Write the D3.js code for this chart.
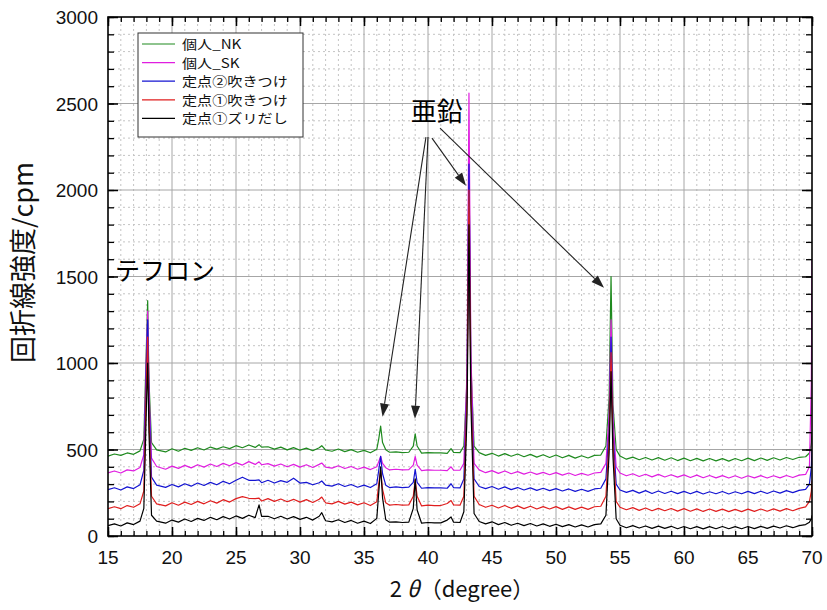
<!DOCTYPE html>
<html><head><meta charset="utf-8">
<script src="https://cdn.jsdelivr.net/npm/d3@7"></script>
<style>
body{margin:0;background:#fff;}
svg{display:block;font-family:"Liberation Sans","Noto Sans CJK JP",Arial,sans-serif;}
</style></head>
<body>
<svg id="chart" width="827" height="610"></svg>
<script>
const twoTheta = [15.0,15.5,16.0,16.5,17.0,17.5,17.8,18.0,18.1,18.2,
18.4,18.8,19.5,20.0,20.5,21.0,21.5,22.0,22.5,23.0,
23.5,24.0,24.5,25.0,25.5,26.0,26.5,26.8,27.0,27.5,
28.0,28.5,29.0,29.5,30.0,30.5,31.0,31.5,31.7,32.0,
32.5,33.0,33.5,34.0,34.5,35.0,35.5,36.0,36.15,36.3,
36.45,36.7,37.0,37.5,38.0,38.5,38.85,39.0,39.15,39.5,
40.0,40.5,41.0,41.5,41.8,42.0,42.5,42.8,43.05,43.2,
43.35,43.6,44.0,44.5,45.0,45.5,46.0,46.5,47.0,47.5,
48.0,48.5,49.0,49.5,50.0,50.5,51.0,51.5,52.0,52.5,
53.0,53.5,53.9,54.15,54.3,54.45,54.7,55.0,55.5,56.0,
56.5,57.0,57.5,58.0,58.5,59.0,59.5,60.0,60.5,61.0,
61.5,62.0,62.5,63.0,63.5,64.0,64.5,65.0,65.5,66.0,
66.5,67.0,67.5,68.0,68.5,69.0,69.5,69.8,69.95,70.0];

const kojinNK = [462,474,466,480,472,492,560,1100,1360,900,
540,498,486,504,490,507,495,510,497,514,
502,516,505,522,510,526,512,528,514,516,
502,514,498,511,496,508,493,510,522,497,
490,503,488,499,484,495,481,502,560,635,
540,498,484,486,482,484,520,590,520,479,
482,480,480,478,505,483,482,520,900,2200,
1000,520,482,466,478,462,476,461,474,458,
472,456,470,454,468,452,466,450,464,451,
466,468,520,800,1500,760,500,462,444,456,
441,454,439,453,438,452,436,450,435,449,
434,448,434,447,433,448,435,450,436,451,
437,452,439,454,442,455,458,480,540,600];

const kojinSK = [365,376,364,382,376,396,470,1050,1300,850,
450,402,386,404,391,408,394,412,398,416,
402,420,406,424,410,430,414,429,412,418,
404,416,400,414,398,412,396,414,422,398,
392,406,390,402,386,398,384,400,430,460,
420,395,382,386,382,384,410,460,410,378,
382,380,380,378,400,381,380,420,950,2560,
1050,420,382,366,378,362,376,360,372,358,
370,356,368,354,366,352,364,350,362,351,
364,368,420,700,1250,680,400,364,348,360,
344,357,342,356,341,354,340,353,338,352,
337,350,336,349,335,348,334,348,336,349,
335,348,336,350,338,352,356,400,900,1600];

const teiten2Fuki = [268,279,266,284,274,296,380,1000,1250,800,
340,294,281,298,284,302,288,306,292,310,
296,316,302,322,340,322,322,324,308,322,
306,320,310,334,306,310,296,308,318,294,
288,302,286,298,282,294,280,302,380,460,
360,294,280,284,280,282,310,385,310,276,
280,278,278,276,302,280,278,330,850,2150,
900,330,286,274,286,270,284,268,280,266,
278,264,276,262,274,260,272,258,270,258,
272,276,330,620,1150,600,300,266,252,264,
248,262,246,260,246,259,245,258,244,258,
243,256,244,257,243,256,244,258,245,259,
246,260,248,262,251,264,270,300,400,500];

const teiten1Fuki = [158,169,158,176,166,186,260,900,1150,700,
230,186,174,192,178,196,182,200,186,204,
190,210,196,216,228,218,216,219,202,216,
200,214,198,212,196,210,194,212,225,192,
186,200,184,196,180,192,176,198,300,380,
270,192,178,182,178,180,230,325,230,174,
178,176,176,188,205,180,178,230,800,2000,
850,230,182,166,178,162,176,160,174,158,
172,156,170,156,170,154,168,154,167,154,
169,172,230,560,1060,540,200,166,152,164,
148,162,146,160,146,159,144,158,143,157,
142,156,142,155,141,154,141,155,142,156,
143,157,144,158,146,160,168,200,260,320];

const teiten1Zuri = [60,70,58,76,66,86,160,750,1000,600,
120,86,74,92,80,98,84,102,90,108,
94,112,98,116,102,120,106,180,114,114,
100,114,98,112,96,108,92,114,135,88,
82,94,78,90,74,86,72,102,250,400,
220,94,80,82,78,80,160,330,150,74,
78,76,76,92,110,80,78,140,700,1800,
760,130,84,70,82,66,78,62,74,60,
72,58,70,56,68,54,66,52,64,52,
66,70,120,480,950,460,100,62,48,60,
46,58,44,57,44,56,42,55,42,54,
41,54,42,55,42,54,42,55,43,56,
44,57,46,59,48,60,66,80,100,120];

const seriesNames = ["個人_NK","個人_SK","定点②吹きつけ","定点①吹きつけ","定点①ズリだし"];
const seriesColors = ["#1f8a1f","#e01ee0","#1414d2","#e01e1e","#000000"];
const seriesValues = [kojinNK,kojinSK,teiten2Fuki,teiten1Fuki,teiten1Zuri];

const xTicks = [15,20,25,30,35,40,45,50,55,60,65,70];
const yTicks = [0,500,1000,1500,2000,2500,3000];

const svg = d3.select("#chart");
const m = {l:108,r:15,t:17,b:74};
const W = 827, H = 610;
const x = d3.scaleLinear().domain([15,70]).range([m.l, W-m.r]);
const y = d3.scaleLinear().domain([0,3000]).range([H-m.b, m.t]);
const x0=x(15),x1=x(70),y0=y(0),y1=y(3000);

svg.append("defs").append("clipPath").attr("id","clip")
  .append("rect").attr("x",x0).attr("y",y1).attr("width",x1-x0).attr("height",y0-y1);

// minor grid
const g = svg.append("g");
g.selectAll("line.vmin").data(d3.range(16,70,1).filter(v=>v%5!==0)).join("line")
  .attr("x1",d=>x(d)).attr("x2",d=>x(d)).attr("y1",y0).attr("y2",y1)
  .attr("stroke","#c4c4c4").attr("stroke-width",1).attr("stroke-dasharray","2,3");
g.selectAll("line.hmin").data(d3.range(100,3000,100).filter(v=>v%500!==0)).join("line")
  .attr("x1",x0).attr("x2",x1).attr("y1",d=>y(d)).attr("y2",d=>y(d))
  .attr("stroke","#c4c4c4").attr("stroke-width",1).attr("stroke-dasharray","2,3");
// major grid
g.selectAll("line.vmaj").data(xTicks.slice(1,-1)).join("line")
  .attr("x1",d=>x(d)).attr("x2",d=>x(d)).attr("y1",y0).attr("y2",y1)
  .attr("stroke","#a6a6a6").attr("stroke-width",1);
g.selectAll("line.hmaj").data(yTicks.slice(1,-1)).join("line")
  .attr("x1",x0).attr("x2",x1).attr("y1",d=>y(d)).attr("y2",d=>y(d))
  .attr("stroke","#a6a6a6").attr("stroke-width",1);

// series
const line = d3.line().x((d,i)=>x(twoTheta[i])).y(d=>y(d));
const sg = svg.append("g").attr("clip-path","url(#clip)");
seriesValues.forEach((vals,k)=>{
  sg.append("path").datum(vals).attr("d",line)
    .attr("fill","none").attr("stroke",seriesColors[k]).attr("stroke-width",1.2)
    .attr("stroke-linejoin","round");
});

// axes with inward ticks on all sides
function axisSet(axisGen, transform, majors, minors, bigLen, smallLen){
  const ga = svg.append("g").attr("transform",transform);
  ga.call(axisGen.tickValues(minors).tickSize(smallLen).tickFormat(""));
  ga.select(".domain").remove();
  ga.selectAll("line").attr("stroke","#000").attr("stroke-width",1.3);
  const gb = svg.append("g").attr("transform",transform);
  gb.call(axisGen.tickValues(majors).tickSize(bigLen).tickFormat(""));
  gb.select(".domain").remove();
  gb.selectAll("line").attr("stroke","#000").attr("stroke-width",1.5);
}
const xMinor = d3.range(15,71,1), yMinor = d3.range(0,3001,100);
axisSet(d3.axisBottom(x), `translate(0,${y0})`, xTicks, xMinor, -9, -5);
axisSet(d3.axisTop(x), `translate(0,${y1})`, xTicks, xMinor, -9, -5);
axisSet(d3.axisLeft(y), `translate(${x0},0)`, yTicks, yMinor, -10, -6);
axisSet(d3.axisRight(y), `translate(${x1},0)`, yTicks, yMinor, -10, -6);

svg.append("rect").attr("x",x0).attr("y",y1).attr("width",x1-x0).attr("height",y0-y1)
  .attr("fill","none").attr("stroke","#000").attr("stroke-width",1.6);

// tick labels
svg.append("g").selectAll("text").data(xTicks).join("text")
  .attr("x",d=>x(d)).attr("y",y0+28).attr("text-anchor","middle")
  .attr("font-size",19).attr("fill","#111").text(d=>d);
svg.append("g").selectAll("text").data(yTicks).join("text")
  .attr("x",x0-10).attr("y",d=>y(d)+7).attr("text-anchor","end")
  .attr("font-size",19).attr("fill","#111").text(d=>d);

// axis titles
svg.append("text").attr("transform",`translate(33,${(y0+y1)/2-14}) rotate(-90)`)
  .attr("text-anchor","middle").attr("font-size",27)
  .attr("font-family","'Noto Sans CJK JP',sans-serif").attr("fill","#111")
  .text("回折線強度/cpm");
const xt = svg.append("text").attr("x",462).attr("y",597).attr("text-anchor","middle")
  .attr("font-size",22).attr("font-family","'Noto Sans CJK JP',sans-serif").attr("fill","#111");
xt.append("tspan").text("2 ");
xt.append("tspan").attr("font-style","italic").text("θ");
xt.append("tspan").text("（degree）");

// legend
const lg = svg.append("g");
lg.append("rect").attr("x",138).attr("y",33).attr("width",165).attr("height",104)
  .attr("fill","#fff").attr("stroke","#333").attr("stroke-width",1);
seriesNames.forEach((n,i)=>{
  const yy = 44 + i*18.6;
  lg.append("line").attr("x1",142).attr("x2",175).attr("y1",yy).attr("y2",yy)
    .attr("stroke",seriesColors[i]).attr("stroke-width",1.2);
  lg.append("text").attr("transform",`translate(182,${yy+5}) scale(1.2,1)`).attr("font-size",12.6)
    .attr("font-family","'Noto Sans CJK JP',sans-serif").attr("fill","#111").text(n);
});

// annotations
const annotTeflon = {label:"テフロン", x:15.55, y:1480};
const annotZinc = {label:"亜鉛", x:38.65, y:2400};
const zincArrows = [
  {from:[39.84,2306], to:[36.45,690]},
  {from:[40.0,2306], to:[38.98,678]},
  {from:[40.31,2300], to:[42.97,2025]},
  {from:[40.94,2358], to:[53.75,1435]}
];
svg.append("text").attr("x",x(annotTeflon.x)).attr("y",y(annotTeflon.y))
  .attr("font-size",25).attr("font-family","'Noto Sans CJK JP',sans-serif").attr("fill","#000")
  .text(annotTeflon.label);
svg.append("text").attr("x",x(annotZinc.x)).attr("y",y(annotZinc.y))
  .attr("font-size",26).attr("font-family","'Noto Sans CJK JP',sans-serif").attr("fill","#000")
  .text(annotZinc.label);
const ag = svg.append("g");
zincArrows.forEach(a=>{
  const sx=x(a.from[0]), sy=y(a.from[1]), tx=x(a.to[0]), ty=y(a.to[1]);
  const ang=Math.atan2(ty-sy,tx-sx), L=13, Wd=4.5;
  const bx=tx-L*Math.cos(ang), by=ty-L*Math.sin(ang);
  ag.append("line").attr("x1",sx).attr("y1",sy).attr("x2",bx).attr("y2",by)
    .attr("stroke","#222").attr("stroke-width",1.1);
  const px=-Math.sin(ang), py=Math.cos(ang);
  ag.append("path").attr("d",`M${tx},${ty}L${bx+px*Wd},${by+py*Wd}L${bx-px*Wd},${by-py*Wd}Z`)
    .attr("fill","#222");
});
</script>
</body></html>
